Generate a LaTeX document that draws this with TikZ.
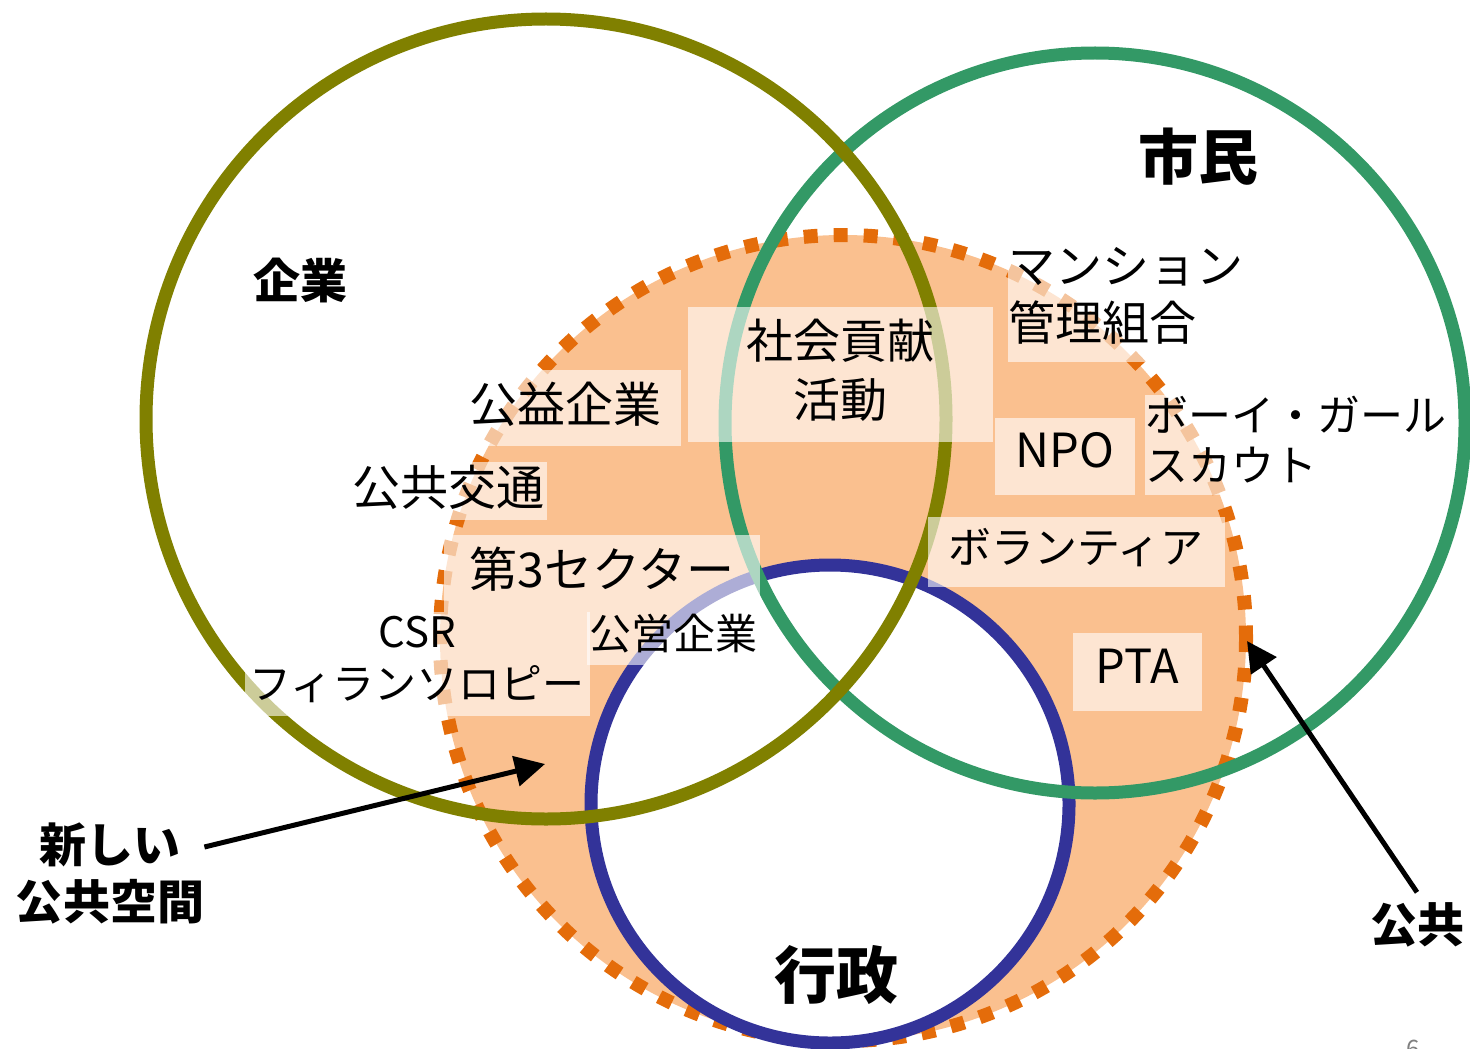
\documentclass[tikz,border=0pt]{standalone}
\usepackage{fontspec}
\setmainfont{Noto Sans CJK JP}
\usetikzlibrary{arrows.meta}

\definecolor{kigyo}{RGB}{128,128,0}
\definecolor{shimin}{RGB}{51,153,102}
\definecolor{gyosei}{RGB}{51,51,153}
\definecolor{koufill}{RGB}{250,192,143}
\definecolor{kouline}{RGB}{228,108,10}

\newcommand{\fsz}[2]{\fontsize{#1}{#2}\selectfont}

\tikzset{
  ring/.style={line width=6.5pt},
  tag/.style={fill=white, fill opacity=0.6, text opacity=1, inner sep=0pt, align=center, text depth=6pt},
  big/.style={font=\bfseries\fsz{23.5}{28.5}, inner sep=0pt, align=center},
  pointer/.style={line width=2.5pt, -{Triangle[length=15pt,width=15pt]}},
}

\begin{document}
\begin{tikzpicture}[x=0.5pt, y=-0.5pt]
\useasboundingbox (0,0) rectangle (1470,1048);

% public space
\fill[koufill] (843,638) circle [radius=403];
\draw[kouline, line width=7pt, dash pattern=on 7pt off 8pt] (843,638) circle [radius=403];

% three sectors
\draw[ring, gyosei, fill=white] (830,804) circle [radius=239];
\draw[ring, shimin] (1095,423) circle [radius=370];
\draw[ring, kigyo] (546,419) circle [radius=400];

\node[big] (kigyo) at (300,280) {企業};
\node[big, font=\bfseries\fsz{30}{36}] (shimin) at (1198,157) {市民};
\node[big, font=\bfseries\fsz{31}{37}] (gyosei) at (836,975) {行政};
\node[big] (newspace) at (110,873) {新しい\\公共空間};
\node[big] (pub) at (1417,925) {公共};

% examples
\node[tag, font=\fsz{23.5}{29.5}, minimum width=152.5pt, minimum height=67.5pt] (kouken) at (840,374) {社会貢献\\活動};
\node[tag, font=\fsz{24}{28}, minimum width=116pt, minimum height=38pt] (koueki) at (565,408) {公益企業};
\node[tag, font=\fsz{24}{28}, minimum width=98.5pt, minimum height=29pt] (koutsu) at (448,491) {公共交通};
\node[tag, font=\fsz{24}{28}, minimum width=158pt, minimum height=38.5pt] (sector) at (602,573) {第3セクター};
\node[tag, font=\fsz{21}{26}, minimum width=172.5pt, minimum height=52pt] (csr) at (417,664) {CSR\\フィランソロピー};
\node[tag, font=\fsz{21}{25}, minimum width=86.5pt, minimum height=26.5pt] (koei) at (673,638) {公営企業};
\node[tag, font=\fsz{23.5}{28.5}, align=left, anchor=west, minimum height=62pt] (mansion) at (1008,300) {マンション\\管理組合};
\node[tag, font=\fsz{21.5}{25}, align=left, anchor=west, minimum height=50pt] (scout) at (1145,445) {ボーイ・ガール\\スカウト};
\node[tag, font=\fsz{23.5}{28}, minimum width=70pt, minimum height=38.5pt] (npo) at (1065,456) {NPO};
\node[tag, font=\fsz{21.5}{26}, minimum width=148.5pt, minimum height=35pt] (volunteer) at (1076,552) {ボランティア};
\node[tag, font=\fsz{23.5}{28}, minimum width=64.5pt, minimum height=39pt] (pta) at (1137,672) {PTA};

% pointers
\coordinate (spacetip) at (545,764);
\coordinate (pubtip) at (1247,641);
\draw[pointer] ([yshift=13pt]newspace.east) -- (spacetip);
\draw[pointer] ([yshift=5pt]pub.north) -- (pubtip);

\node[gray, font=\fsz{12}{14}] (page) at (1413,1049) {6};
\end{tikzpicture}
\end{document}
